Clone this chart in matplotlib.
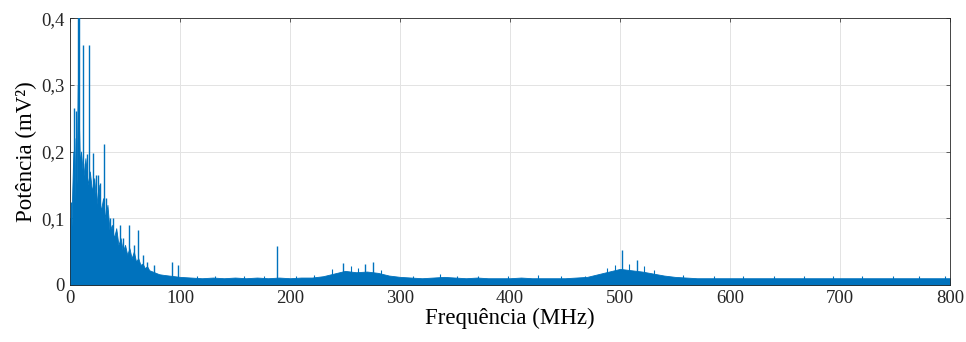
import numpy as np
import matplotlib
matplotlib.use("Agg")
import matplotlib.pyplot as plt

# envelope of the dense spectrum body (MHz, mV^2)
band_f = [0, 1, 2, 3, 4, 5, 6, 7, 8, 9, 10, 12, 14, 16, 18, 20, 22, 24, 26, 28, 30,
          32, 34, 36, 38, 40, 42, 44, 46, 48, 50, 52, 54, 56, 58, 60, 62, 64, 66, 68,
          70, 72, 75, 78, 81, 85, 90, 95, 100,
          110, 120, 130, 140, 150, 160, 170, 180, 190, 200, 210, 220, 230, 240, 250,
          260, 270, 280, 290, 300, 310, 320, 330, 340, 350, 360, 370, 380, 390, 400,
          410, 420, 430, 440, 450, 460, 470, 480, 490, 500, 510, 520, 530, 540, 550,
          560, 570, 580, 590, 600, 610, 620, 630, 640, 650, 660, 670, 680, 690, 700,
          710, 720, 730, 740, 750, 760, 770, 780, 790, 800]
band_hi = [0.10, 0.06, 0.14, 0.20, 0.12, 0.22, 0.15, 0.30, 0.25, 0.18, 0.20, 0.16, 0.19,
           0.15, 0.17, 0.14, 0.16, 0.12, 0.15, 0.11, 0.13, 0.10, 0.12, 0.08, 0.09, 0.07,
           0.085, 0.06, 0.07, 0.05, 0.06, 0.045, 0.055, 0.04, 0.05, 0.035, 0.04, 0.03,
           0.032, 0.025, 0.028, 0.022, 0.02, 0.018, 0.016, 0.015, 0.014, 0.013, 0.012,
           0.011, 0.010, 0.011, 0.010, 0.011, 0.010, 0.011, 0.010, 0.011, 0.010, 0.011,
           0.011, 0.013, 0.017, 0.021, 0.019, 0.020, 0.018, 0.014, 0.012, 0.011, 0.010,
           0.011, 0.012, 0.011, 0.010, 0.011, 0.010, 0.010, 0.010, 0.011, 0.010, 0.010,
           0.010, 0.010, 0.011, 0.012, 0.016, 0.020, 0.024, 0.022, 0.020, 0.017, 0.014,
           0.012, 0.011, 0.010, 0.010, 0.010, 0.010, 0.010, 0.010, 0.010, 0.010, 0.010,
           0.010, 0.010, 0.010, 0.010, 0.010, 0.010, 0.010, 0.010, 0.010, 0.010, 0.010,
           0.010, 0.010, 0.010, 0.010]

# individual spikes standing above the body
spike_f = [1, 3.8, 5, 7.5, 8.5, 11.5, 13.6, 15.4, 17.5, 18.2, 21.2, 24, 25.5, 27, 31,
           33, 36, 39, 42, 45, 48, 54, 58, 62, 66, 70, 76, 93, 98, 188, 248, 268, 275,
           502, 515]
spike_v = [0.125, 0.265, 0.26, 0.42, 0.42, 0.36, 0.183, 0.196, 0.36, 0.153, 0.198, 0.165,
           0.165, 0.153, 0.212, 0.13, 0.10, 0.10, 0.08, 0.09, 0.07, 0.09, 0.06, 0.082,
           0.045, 0.035, 0.03, 0.034, 0.03, 0.058, 0.033, 0.032, 0.034, 0.052, 0.037]

# small spikes on the noise floor
small_f = [115, 132, 158, 176, 205, 222, 238, 255, 262, 283, 312, 336, 352, 371, 398,
           425, 446, 468, 488, 495, 508, 522, 531, 557, 585, 612, 640, 667, 694, 720,
           748, 772, 795]
small_v = [0.014, 0.013, 0.014, 0.013, 0.014, 0.015, 0.024, 0.028, 0.026, 0.022, 0.014,
           0.017, 0.013, 0.014, 0.013, 0.015, 0.013, 0.014, 0.025, 0.030, 0.031, 0.028,
           0.022, 0.015, 0.013, 0.014, 0.013, 0.014, 0.013, 0.014, 0.013, 0.014, 0.013]

x_ticks = [0, 100, 200, 300, 400, 500, 600, 700, 800]
y_ticks = [0, 0.1, 0.2, 0.3, 0.4]
y_labels = ["0", "0,1", "0,2", "0,3", "0,4"]

blue = "#0072BD"
plt.rcParams["font.family"] = ["Liberation Serif", "DejaVu Serif"]

fig = plt.figure(figsize=(9.66, 3.42), dpi=100)
ax = fig.add_axes([0.0725, 0.167, 0.911, 0.780])

ax.fill_between(band_f, 0, band_hi, color=blue, lw=0.6, zorder=2)
ax.vlines(spike_f, 0, spike_v, color=blue, lw=1.0, zorder=3)
ax.vlines(small_f, 0, small_v, color=blue, lw=0.8, zorder=3)

ax.set_xlim(0, 800); ax.set_ylim(0, 0.4)
ax.set_xticks(x_ticks); ax.set_yticks(y_ticks)
ax.set_yticklabels(y_labels)
ax.grid(color="#e3e3e3", lw=0.7, zorder=0)
ax.set_axisbelow(True)
ax.tick_params(direction="in", length=3, width=0.5, labelsize=13.5, colors="#262626",
               top=True, right=True, pad=4)
for sp in ax.spines.values():
    sp.set_color("#262626"); sp.set_linewidth(0.6)
ax.set_xlabel("Frequência (MHz)", fontsize=16.5, labelpad=0)
ax.set_ylabel("Potência (mV²)", fontsize=16.5, labelpad=3)

fig.savefig("out.png", dpi=100)
